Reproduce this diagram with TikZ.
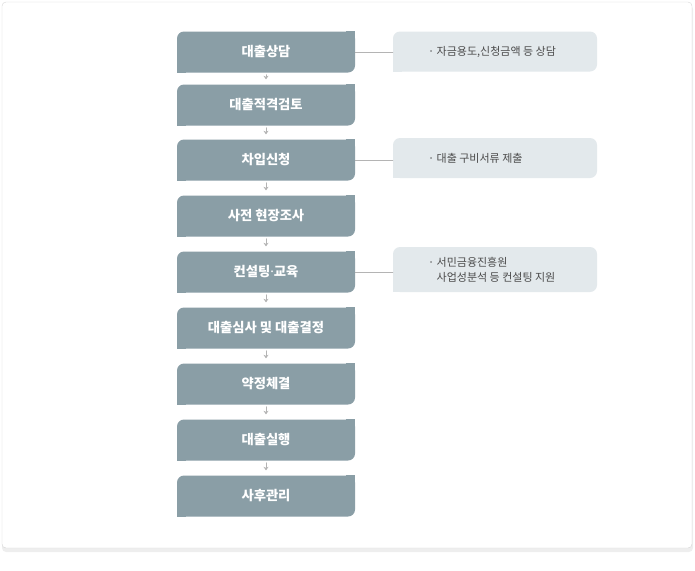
\documentclass[tikz,border=0pt]{standalone}
\usepackage{fontspec}
\setmainfont{Noto Sans CJK KR}
\newfontfamily\dotfont{Noto Sans}
\usetikzlibrary{arrows.meta,positioning}
\definecolor{boxgray}{HTML}{8A9EA6}
\definecolor{notegray}{HTML}{E3E9EC}
\definecolor{notetext}{HTML}{4A4A4A}
\definecolor{linegray}{HTML}{B4B4B4}
\definecolor{framegray}{HTML}{D6D6D6}
\definecolor{shadowgray}{HTML}{EEEEEE}
\tikzset{
  stepbox/.style={rectangle, fill=boxgray, rounded corners=7pt, minimum width=178pt,
    minimum height=41pt, inner sep=0pt, text=white, font=\fontsize{13.3}{15}\selectfont\bfseries},
  notebox/.style={rectangle, fill=notegray, rounded corners=7pt, minimum width=204pt, inner sep=0pt},
  notetxt/.style={anchor=west, text=notetext, font=\fontsize{11}{15}\selectfont,
    align=left, inner sep=0pt},
  flowarr/.style={draw=linegray, line width=0.8pt, -{Stealth[length=3.5pt,width=5pt]},
    shorten <=2pt, shorten >=5pt},
  tieline/.style={draw=linegray, line width=0.8pt},
  every picture/.style={line cap=round, line join=round}
}

\begin{document}
\begin{tikzpicture}[x=1pt,y=-1pt]
    \useasboundingbox (0,0) rectangle (695,570);
    \fill[shadowgray, rounded corners=4pt] (2,5) rectangle (693,552);
    \draw[framegray, fill=white, rounded corners=4pt] (2,2) rectangle (692,548);

    \foreach \name/\y/\txt in {
      s1/52/대출상담,
      s2/105/대출적격검토,
      s3/160/차입신청,
      s4/216/사전 현장조사,
      s5/272/컨설팅{\dotfont ·}교육,
      s6/328/대출심사 및 대출결정,
      s7/384/약정체결,
      s8/440/대출실행,
      s9/496/사후관리}
    {
      \node[stepbox] (\name) at (266,\y) {\txt};
      \fill[boxgray] (\name.north east) rectangle ++(-9,9);
      \fill[boxgray] (\name.south west) rectangle ++(9,-9);
    }

    \foreach \a/\b in {s1/s2,s2/s3,s3/s4,s4/s5,s5/s6,s6/s7,s7/s8,s8/s9}
      \draw[flowarr] (\a) -- (\b);

    \node[notebox, minimum height=40pt] (n1) at (495,51.5) {};
    \node[notebox, minimum height=40pt] (n3) at (495,158) {};
    \node[notebox, minimum height=45pt] (n5) at (495,269.5) {};
    \foreach \n in {n1,n3,n5}
      \fill[notegray] (\n.south west) rectangle ++(9,-9);

    \node[notetxt, right=35pt of n1.west] (t1) {· 자금용도,신청금액 등 상담};
    \node[notetxt, right=35pt of n3.west] (t3) {· 대출 구비서류 제출};
    \node[notetxt, right=35pt of n5.west] (t5) {· 서민금융진흥원\\\phantom{· }사업성분석 등 컨설팅 지원};

    \draw[tieline] (s1.east) -- (n1.west |- s1.east);
    \draw[tieline] (s3.east) -- (n3.west |- s3.east);
    \draw[tieline] (s5.east) -- (n5.west |- s5.east);
  \end{tikzpicture}
\end{document}
